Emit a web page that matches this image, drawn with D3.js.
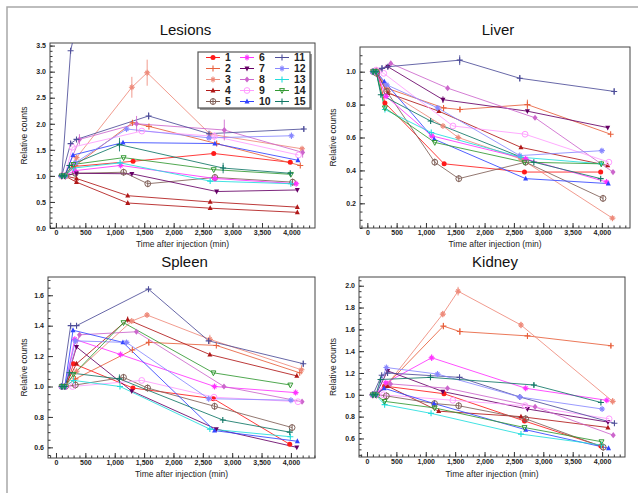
<!DOCTYPE html>
<html>
<head>
<meta charset="utf-8">
<script src="https://cdn.jsdelivr.net/npm/d3@7.9.0/dist/d3.min.js"></script>
<style>
  body { margin: 0; background: #fff; }
  svg { display: block; font-family: "Liberation Sans", Arial, sans-serif; }
</style>
</head>
<body>
<svg id="chart" width="638" height="493"></svg>
<script>
// patients (legend labels), colours and marker types
const patients = ['1','2','3','4','5','6','7','8','9','10','11','12','13','14','15'];
const colors = ['#ff1a1a','#e8603c','#ee8a7a','#b01818','#806058','#ff33ff','#660066','#cc66cc',
                '#ff9cff','#3344ff','#4d4d99','#8888ff','#22dddd','#339933','#117766'];
const markers = ['dot','plus','star','tri','ocross','star','tridown','diamond','ocircle','tri',
                 'plus','star','plus','otridown','plus'];

// scan times (min) per patient
const times = [
  [100, 170, 300, 1310, 2680, 3980],
  [100, 160, 330, 1300, 1580, 2730, 4150],
  [100, 160, 350, 1290, 1550, 2620, 4180],
  [100, 150, 350, 1220, 2620, 4100],
  [100, 160, 330, 1150, 1560, 2700, 4020],
  [100, 150, 320, 1100, 2700, 4080],
  [100, 150, 350, 1290, 2730, 4100],
  [100, 150, 400, 1370, 2860, 4190],
  [100, 150, 280, 1460, 2690, 4120],
  [100, 150, 290, 1140, 2700, 4110],
  [100, 250, 350, 1575, 2600, 4210],
  [100, 150, 330, 1200, 2600, 4000],
  [100, 150, 300, 1090, 2620, 3990],
  [100, 150, 300, 1150, 2680, 3990],
  [100, 150, 230, 1080, 2840, 3980]
];

// lesions: some patients have two lesions
const lesionIds = [1, 2, 3, 4, 4, 5, 6, 7, 8, 9, 10, 11, 11, 12, 13, 14, 15];
const lesionVals = [
  [1, 1.0, 1.18, 1.28, 1.43, 1.26],
  [1, 1.0, 1.20, 2.02, 1.95, 1.62, 1.20],
  [1, 1.0, 1.35, 2.70, 2.98, 1.80, 1.52],
  [1, 1.0, 0.95, 0.62, 0.50, 0.40],
  [1, 1.0, 0.88, 0.48, 0.38, 0.30],
  [1, 1.0, 1.05, 1.07, 0.85, 0.97, 0.88],
  [1, 1.0, 1.10, 1.20, 0.95, 0.85],
  [1, 1.0, 1.05, 1.04, 0.70, 0.73],
  [1, 1.0, 1.70, 2.00, 1.88, 1.45],
  [1, 1.0, 1.55, 1.86, 1.76, 1.40],
  [1, 1.0, 1.40, 1.64, 1.62, 1.30],
  [1, 3.40, 3.90, 4.60, 4.40, 4.20],
  [1, 1.62, 1.70, 2.15, 1.81, 1.90],
  [1, 1.0, 1.25, 1.90, 1.73, 1.77],
  [1, 1.0, 1.15, 1.25, 0.90, 0.85],
  [1, 1.0, 1.22, 1.35, 1.12, 1.03],
  [1, 1.0, 1.20, 1.60, 1.15, 1.05]
];
const liverVals = [
  [1, 1.0, 0.81, 0.44, 0.39, 0.39],
  [1, 1.0, 0.90, 0.78, 0.77, 0.80, 0.62],
  [1, 1.01, 0.88, 0.67, 0.60, 0.47, 0.11],
  [1, 1.0, 0.87, 0.76, 0.54, 0.43],
  [1, 0.99, 0.88, 0.45, 0.35, 0.45, 0.23],
  [1, 1.0, 0.85, 0.61, 0.47, 0.33],
  [1, 1.0, 1.03, 0.83, 0.76, 0.66],
  [1, 1.0, 1.05, 0.90, 0.72, 0.39],
  [1, 1.01, 0.99, 0.67, 0.62, 0.45],
  [1, 1.0, 0.94, 0.59, 0.35, 0.32],
  [1, 1.02, 1.03, 1.07, 0.96, 0.88],
  [1, 1.0, 0.92, 0.78, 0.49, 0.52],
  [1, 1.0, 0.77, 0.63, 0.48, 0.44],
  [1, 1.0, 0.78, 0.57, 0.45, 0.44],
  [1, 1.0, 0.86, 0.70, 0.45, 0.35]
];
const spleenVals = [
  [1, 1.0, 1.15, 0.99, 0.92, 0.62],
  [1, 1.0, 1.05, 1.24, 1.29, 1.27, 1.09],
  [1, 1.0, 1.10, 1.43, 1.47, 1.31, 1.11],
  [1, 1.0, 1.15, 1.44, 1.21, 1.07],
  [1, 1.0, 1.01, 1.06, 0.99, 0.87, 0.73],
  [1, 1.0, 1.31, 1.21, 1.00, 0.96],
  [1, 1.0, 1.26, 0.97, 0.72, 0.60],
  [1, 1.0, 1.34, 1.36, 1.00, 0.90],
  [1, 1.0, 1.00, 1.04, 0.93, 0.90],
  [1, 1.0, 1.37, 1.29, 0.71, 0.64],
  [1, 1.40, 1.40, 1.64, 1.30, 1.15],
  [1, 1.0, 1.30, 1.29, 0.92, 0.91],
  [1, 1.0, 1.04, 1.00, 0.72, 0.67],
  [1, 1.0, 1.08, 1.42, 1.09, 1.01],
  [1, 1.0, 1.09, 1.05, 0.78, 0.70]
];
const kidneyVals = [
  [1, 1.0, 1.08, 1.01, 0.76, 0.53],
  [1, 1.0, 1.09, 1.63, 1.58, 1.54, 1.45],
  [1, 1.0, 1.10, 1.74, 1.95, 1.64, 0.94],
  [1, 1.0, 1.08, 0.85, 0.80, 0.70],
  [1, 1.0, 0.99, 0.92, 0.90, 0.78, 0.52],
  [1, 1.0, 1.11, 1.34, 1.06, 0.95],
  [1, 1.0, 1.22, 1.03, 0.87, 0.75],
  [1, 1.0, 1.10, 1.06, 0.89, 0.63],
  [1, 1.0, 1.00, 0.95, 0.90, 0.78],
  [1, 1.0, 1.06, 0.92, 0.68, 0.51],
  [1, 1.18, 1.20, 1.16, 0.98, 0.74],
  [1, 1.0, 1.25, 1.19, 0.98, 0.87],
  [1, 1.0, 0.91, 0.83, 0.64, 0.54],
  [1, 1.0, 0.94, 0.88, 0.70, 0.57],
  [1, 1.0, 1.14, 1.16, 1.09, 0.93]
];

// error bars: [line index, point index, half-length]
const lesionErr = [[2,3,0.2],[2,4,0.25],[1,3,0.05],[8,2,0.1],[8,3,0.15],[8,4,0.2],[8,5,0.1],
                   [16,3,0.13],[16,4,0.1],[12,1,0.05],[12,3,0.07],[12,5,0.05],[13,5,0.06],[9,4,0.08]];
const liverErr = [[10,3,0.03],[10,4,0.02],[10,5,0.02],[10,1,0.02],[1,5,0.03],[1,4,0.015],[6,3,0.02]];
const spleenErr = [[10,3,0.015],[10,4,0.02],[10,5,0.02],[2,4,0.015],[2,5,0.03],[2,6,0.03],
                   [3,3,0.02],[14,3,0.03],[1,4,0.02]];
const kidneyErr = [[2,3,0.03],[2,4,0.04],[2,5,0.03],[2,6,0.03],[1,3,0.03],[1,4,0.03],[1,6,0.02],
                   [5,3,0.03],[14,4,0.02]];

// tick labels
const xTicks = [0, 500, 1000, 1500, 2000, 2500, 3000, 3500, 4000];
const lesionTicks = [0, 0.5, 1.0, 1.5, 2.0, 2.5, 3.0, 3.5];
const liverTicks = [0.2, 0.4, 0.6, 0.8, 1.0];
const spleenTicks = [0.6, 0.8, 1.0, 1.2, 1.4, 1.6];
const kidneyTicks = [0.6, 0.8, 1.0, 1.2, 1.4, 1.6, 1.8, 2.0];

const panels = [
  { title: 'Lesions', vals: lesionVals, ids: lesionIds, err: lesionErr, yTicks: lesionTicks, yMinor: 0.1,
    xr: [50, 315], yr: [228, 43], xd: [-100, 4400], yd: [0, 3.55], titleY: 35, xtY: 247, ytX: 27, legend: true },
  { title: 'Liver', vals: liverVals, ids: null, err: liverErr, yTicks: liverTicks, yMinor: 0.05,
    xr: [360, 630], yr: [228, 47], xd: [-125, 4480], yd: [0.05, 1.15], titleY: 35, xtY: 247, ytX: 336 },
  { title: 'Spleen', vals: spleenVals, ids: null, err: spleenErr, yTicks: spleenTicks, yMinor: 0.05,
    xr: [48, 315], yr: [458, 277], xd: [-136, 4410], yd: [0.53, 1.72], titleY: 267, xtY: 477, ytX: 27 },
  { title: 'Kidney', vals: kidneyVals, ids: null, err: kidneyErr, yTicks: kidneyTicks, yMinor: 0.05,
    xr: [359, 625], yr: [457, 277], xd: [-136, 4390], yd: [0.43, 2.08], titleY: 267, xtY: 477, ytX: 336 }
];

const svg = d3.select('#chart');

// outer frame
svg.append('rect').attr('x', 7).attr('y', 7).attr('width', 700).attr('height', 600)
  .attr('fill', 'none').attr('stroke', '#a8a8a8').attr('stroke-width', 1.5);

function drawMarker(g, type, cx, cy, color) {
  const s = 2.5;
  if (type === 'dot') {
    g.append('circle').attr('cx', cx).attr('cy', cy).attr('r', s).attr('fill', color);
  } else if (type === 'ocircle' || type === 'ocross') {
    g.append('circle').attr('cx', cx).attr('cy', cy).attr('r', s + 0.4)
      .attr('fill', 'none').attr('stroke', color).attr('stroke-width', 1);
    if (type === 'ocross') {
      g.append('path').attr('d', `M${cx},${cy - s - 1}V${cy + s + 1}`).attr('stroke', color);
    }
  } else if (type === 'plus' || type === 'star') {
    let d = `M${cx - s - 0.5},${cy}H${cx + s + 0.5}M${cx},${cy - s - 0.5}V${cy + s + 0.5}`;
    if (type === 'star') d += `M${cx - s + 0.6},${cy - s + 0.6}L${cx + s - 0.6},${cy + s - 0.6}M${cx - s + 0.6},${cy + s - 0.6}L${cx + s - 0.6},${cy - s + 0.6}`;
    g.append('path').attr('d', d).attr('stroke', color).attr('stroke-width', 1.1).attr('fill', 'none');
  } else if (type === 'tri') {
    g.append('path').attr('d', `M${cx},${cy - s - 0.4}L${cx + s},${cy + s - 0.6}L${cx - s},${cy + s - 0.6}Z`).attr('fill', color);
  } else if (type === 'tridown' || type === 'otridown') {
    const p = g.append('path').attr('d', `M${cx},${cy + s + 0.4}L${cx + s},${cy - s + 0.6}L${cx - s},${cy - s + 0.6}Z`);
    if (type === 'tridown') p.attr('fill', color);
    else p.attr('fill', 'none').attr('stroke', color);
  } else if (type === 'diamond') {
    g.append('path').attr('d', `M${cx},${cy - s - 0.6}L${cx + s},${cy}L${cx},${cy + s + 0.6}L${cx - s},${cy}Z`).attr('fill', color);
  }
}

panels.forEach((p, pi) => {
  const x = d3.scaleLinear().domain(p.xd).range(p.xr);
  const y = d3.scaleLinear().domain(p.yd).range(p.yr);
  const g = svg.append('g');
  const w = p.xr[1] - p.xr[0], h = p.yr[0] - p.yr[1];

  g.append('clipPath').attr('id', 'clip' + pi)
    .append('rect').attr('x', p.xr[0]).attr('y', p.yr[1]).attr('width', w).attr('height', h);

  // title
  g.append('text').attr('x', (p.xr[0] + p.xr[1]) / 2 + 3).attr('y', p.titleY)
    .attr('text-anchor', 'middle').attr('font-size', 15).attr('fill', '#111').text(p.title);

  // x axis (ticks inside)
  g.append('g').attr('transform', `translate(0,${p.yr[0]})`)
    .call(d3.axisBottom(x).tickValues(d3.range(-100, p.xd[1], 100)).tickSize(-2.5).tickFormat(''))
    .call(a => a.select('.domain').remove())
    .call(a => a.selectAll('line').attr('stroke', '#333'));
  g.append('g').attr('transform', `translate(0,${p.yr[0]})`)
    .call(d3.axisBottom(x).tickValues(xTicks).tickSize(-5).tickPadding(2.5).tickFormat(d3.format(',')))
    .call(a => a.select('.domain').remove())
    .call(a => a.selectAll('line').attr('stroke', '#333'))
    .call(a => a.selectAll('text').attr('font-size', 7).attr('fill', '#222')
      .attr('font-family', '"Liberation Sans", Arial, sans-serif').attr('font-weight', 'bold'));

  // y axis (ticks inside)
  const minor = d3.range(Math.ceil(p.yd[0] / p.yMinor), Math.floor(p.yd[1] / p.yMinor) + 1).map(k => k * p.yMinor);
  g.append('g').attr('transform', `translate(${p.xr[0]},0)`)
    .call(d3.axisLeft(y).tickValues(minor).tickSize(-2.5).tickFormat(''))
    .call(a => a.select('.domain').remove())
    .call(a => a.selectAll('line').attr('stroke', '#333'));
  g.append('g').attr('transform', `translate(${p.xr[0]},0)`)
    .call(d3.axisLeft(y).tickValues(p.yTicks).tickSize(-5).tickPadding(4).tickFormat(d3.format('.1f')))
    .call(a => a.select('.domain').remove())
    .call(a => a.selectAll('line').attr('stroke', '#333'))
    .call(a => a.selectAll('text').attr('font-size', 7).attr('fill', '#222')
      .attr('font-family', '"Liberation Sans", Arial, sans-serif').attr('font-weight', 'bold'));

  // frame
  g.append('rect').attr('x', p.xr[0]).attr('y', p.yr[1]).attr('width', w).attr('height', h)
    .attr('fill', 'none').attr('stroke', '#444').attr('stroke-width', 1);

  // axis titles
  g.append('text').attr('x', (p.xr[0] + p.xr[1]) / 2).attr('y', p.xtY)
    .attr('text-anchor', 'middle').attr('font-size', 8.5).attr('fill', '#222').text('Time after injection (min)');
  g.append('text').attr('transform', `translate(${p.ytX},${(p.yr[0] + p.yr[1]) / 2}) rotate(-90)`)
    .attr('text-anchor', 'middle').attr('font-size', 8.5).attr('fill', '#222').text('Relative counts');

  // data
  const plot = g.append('g').attr('clip-path', `url(#clip${pi})`);
  const line = d3.line().x(d => x(d[0])).y(d => y(d[1]));
  const ids = p.ids || p.vals.map((v, i) => i + 1);

  p.vals.forEach((vals, li) => {
    const k = ids[li] - 1;
    const pts = d3.zip(times[k], vals);
    plot.append('path').datum(pts).attr('d', line)
      .attr('fill', 'none').attr('stroke', colors[k]).attr('stroke-width', 1).attr('stroke-opacity', 0.85);
  });

  p.err.forEach(([li, pt, e]) => {
    const k = ids[li] - 1;
    const t = times[k][pt], v = p.vals[li][pt];
    plot.append('line').attr('x1', x(t)).attr('x2', x(t)).attr('y1', y(v - e)).attr('y2', y(v + e))
      .attr('stroke', colors[k]).attr('stroke-width', 1).attr('stroke-opacity', 0.85);
  });

  p.vals.forEach((vals, li) => {
    const k = ids[li] - 1;
    d3.zip(times[k], vals).forEach(([t, v]) => drawMarker(plot, markers[k], x(t), y(v), colors[k]));
  });

  // legend
  if (p.legend) {
    const lg = g.append('g');
    lg.append('rect').attr('x', 200).attr('y', 54).attr('width', 112).attr('height', 56).attr('fill', '#999');
    lg.append('rect').attr('x', 198).attr('y', 52).attr('width', 112).attr('height', 56)
      .attr('fill', '#fff').attr('stroke', '#555').attr('stroke-width', 1.2);
    const colX = [206, 240, 275];
    const rowY = [57.5, 68.5, 79.5, 90.5, 101.5];
    patients.forEach((lab, i) => {
      const cx = colX[Math.floor(i / 5)], cy = rowY[i % 5];
      lg.append('line').attr('x1', cx).attr('x2', cx + 14).attr('y1', cy).attr('y2', cy)
        .attr('stroke', colors[i]).attr('stroke-width', 1);
      drawMarker(lg, markers[i], cx + 7, cy, colors[i]);
      lg.append('text').attr('x', cx + 19).attr('y', cy + 3.8).attr('font-size', 10.5)
        .attr('font-weight', 'bold').attr('fill', '#222').text(lab);
    });
  }
});
</script>
</body>
</html>
